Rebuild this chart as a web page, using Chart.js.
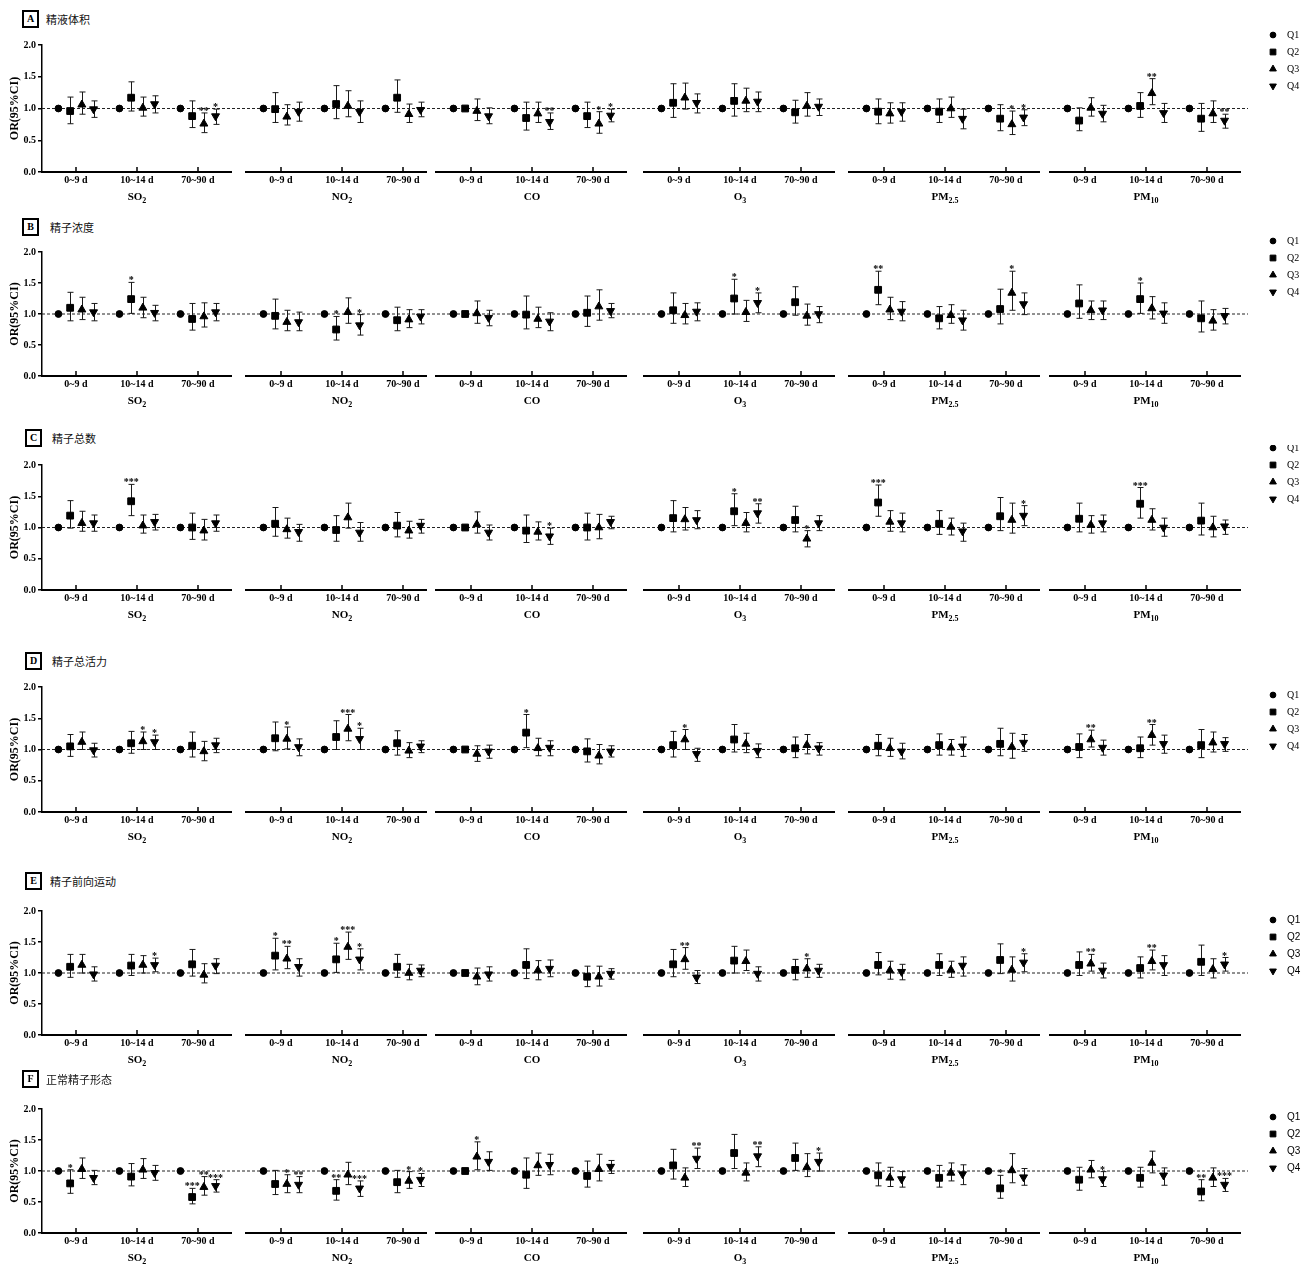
<!DOCTYPE html>
<html>
<head>
<meta charset="utf-8">
<script src="https://cdn.jsdelivr.net/npm/chart.js@4.4.1/dist/chart.umd.min.js"></script>
<style>
  body { margin: 0; width: 1314px; height: 1270px; background: #fff; position: relative; overflow: hidden; }
  .panel { position: absolute; left: 0; width: 1314px; height: 185px; }
  .tag { position: absolute; width: 13px; height: 14px; border: 2px solid #000; font: bold 10px "Liberation Serif", serif; text-align: center; line-height: 14px; }
  .ttl { position: absolute; font: 11px "Noto Sans CJK SC", sans-serif; line-height: 16px; color: #111; }
</style>
</head>
<body>
<script>
const pollutants = ['SO2', 'NO2', 'CO', 'O3', 'PM2.5', 'PM10'];
const windows = ['0~9 d', '10~14 d', '70~90 d'];
const quartiles = ['Q1', 'Q2', 'Q3', 'Q4'];
const panelLetters = ['A', 'B', 'C', 'D', 'E', 'F'];
const panelTitles = ['精液体积', '精子浓度', '精子总数', '精子总活力', '精子前向运动', '正常精子形态'];
const yTicks = [0, 0.5, 1.0, 1.5, 2.0];
const refOR = 1.0; // Q1 is the reference group

// rows: pollutant x window (SO2 0~9, 10~14, 70~90, NO2 ...), columns: Q2, Q3, Q4
// stars: 1 = *, 2 = **, 3 = ***
const orA = [
  [0.96, 1.06, 0.99], [1.17, 1.01, 1.07], [0.88, 0.76, 0.88],
  [0.99, 0.87, 0.95], [1.07, 1.04, 0.95], [1.17, 0.91, 0.98],
  [1.00, 0.96, 0.88], [0.85, 0.92, 0.79], [0.88, 0.76, 0.89],
  [1.09, 1.17, 1.09], [1.12, 1.12, 1.11], [0.94, 1.04, 1.03],
  [0.95, 0.92, 0.95], [0.95, 1.00, 0.84], [0.84, 0.75, 0.86],
  [0.81, 1.01, 0.92], [1.04, 1.24, 0.93], [0.84, 0.92, 0.81]
];
const loA = [
  [0.76, 0.91, 0.86], [0.96, 0.88, 0.93], [0.70, 0.62, 0.75],
  [0.78, 0.74, 0.80], [0.84, 0.87, 0.78], [0.94, 0.78, 0.87],
  [0.98, 0.81, 0.76], [0.66, 0.78, 0.67], [0.70, 0.61, 0.79],
  [0.86, 0.99, 0.93], [0.88, 0.95, 0.95], [0.77, 0.88, 0.89],
  [0.76, 0.77, 0.80], [0.78, 0.86, 0.68], [0.65, 0.59, 0.73],
  [0.65, 0.88, 0.79], [0.86, 1.06, 0.78], [0.64, 0.78, 0.69]
];
const hiA = [
  [1.18, 1.26, 1.12], [1.42, 1.18, 1.20], [1.12, 0.93, 0.99],
  [1.25, 1.06, 1.10], [1.36, 1.28, 1.12], [1.45, 1.07, 1.10],
  [1.02, 1.15, 1.01], [1.10, 1.10, 0.93], [1.10, 0.95, 0.99],
  [1.39, 1.40, 1.23], [1.39, 1.32, 1.26], [1.13, 1.25, 1.15],
  [1.15, 1.09, 1.09], [1.15, 1.18, 0.99], [1.06, 0.96, 0.98],
  [1.01, 1.17, 1.05], [1.25, 1.47, 1.08], [1.08, 1.12, 0.91]
];
const sigA = [
  [0, 0, 0], [0, 0, 0], [0, 2, 1],
  [0, 0, 0], [0, 0, 0], [0, 0, 0],
  [0, 0, 0], [0, 0, 2], [0, 1, 1],
  [0, 0, 0], [0, 0, 0], [0, 0, 0],
  [0, 0, 0], [0, 0, 0], [0, 1, 1],
  [0, 0, 0], [0, 2, 0], [0, 0, 2]
];

const orB = [
  [1.10, 1.07, 1.03], [1.24, 1.10, 1.02], [0.92, 0.96, 1.03],
  [0.97, 0.87, 0.87], [0.75, 1.03, 0.82], [0.90, 0.91, 0.96],
  [1.00, 1.01, 0.94], [0.99, 0.92, 0.88], [1.02, 1.12, 1.05],
  [1.06, 0.98, 1.04], [1.25, 1.03, 1.18], [1.19, 0.97, 1.00],
  [1.39, 1.07, 1.04], [0.93, 0.98, 0.90], [1.08, 1.34, 1.16],
  [1.17, 1.06, 1.06], [1.24, 1.09, 1.01], [0.93, 0.89, 0.97]
];
const loB = [
  [0.89, 0.91, 0.89], [1.01, 0.94, 0.89], [0.74, 0.79, 0.89],
  [0.76, 0.73, 0.73], [0.58, 0.85, 0.66], [0.73, 0.78, 0.84],
  [0.98, 0.85, 0.81], [0.76, 0.78, 0.73], [0.80, 0.90, 0.94],
  [0.85, 0.84, 0.89], [1.00, 0.88, 1.02], [0.98, 0.82, 0.86],
  [1.15, 0.91, 0.89], [0.76, 0.85, 0.74], [0.84, 1.06, 0.99],
  [0.93, 0.91, 0.91], [1.01, 0.92, 0.85], [0.71, 0.74, 0.84]
];
const hiB = [
  [1.35, 1.27, 1.17], [1.51, 1.27, 1.14], [1.17, 1.18, 1.17],
  [1.24, 1.06, 1.03], [0.96, 1.26, 0.99], [1.11, 1.07, 1.07],
  [1.02, 1.21, 1.06], [1.29, 1.11, 1.02], [1.29, 1.39, 1.17],
  [1.34, 1.17, 1.18], [1.56, 1.22, 1.34], [1.44, 1.16, 1.12],
  [1.69, 1.27, 1.20], [1.12, 1.15, 1.06], [1.40, 1.69, 1.34],
  [1.47, 1.21, 1.21], [1.50, 1.28, 1.18], [1.21, 1.07, 1.09]
];
const sigB = [
  [0, 0, 0], [1, 0, 0], [0, 0, 0],
  [0, 0, 0], [1, 0, 1], [0, 0, 0],
  [0, 0, 0], [0, 0, 0], [0, 0, 0],
  [0, 0, 0], [1, 0, 1], [0, 0, 0],
  [2, 0, 0], [0, 0, 0], [0, 1, 0],
  [0, 0, 0], [1, 0, 0], [0, 0, 0]
];

const orC = [
  [1.19, 1.07, 1.07], [1.42, 1.03, 1.09], [1.00, 0.95, 1.07],
  [1.06, 0.97, 0.93], [0.96, 1.16, 0.92], [1.03, 0.95, 1.03],
  [1.00, 1.05, 0.92], [0.95, 0.93, 0.86], [1.00, 1.00, 1.09],
  [1.15, 1.13, 1.12], [1.26, 1.07, 1.23], [1.12, 0.82, 1.07],
  [1.40, 1.09, 1.07], [1.06, 1.01, 0.94], [1.18, 1.12, 1.19],
  [1.14, 1.04, 1.07], [1.38, 1.12, 1.00], [1.11, 1.00, 1.02]
];
const loC = [
  [0.99, 0.94, 0.94], [1.19, 0.91, 0.96], [0.81, 0.80, 0.94],
  [0.86, 0.83, 0.78], [0.78, 0.99, 0.78], [0.85, 0.83, 0.91],
  [0.98, 0.91, 0.80], [0.76, 0.80, 0.73], [0.80, 0.82, 0.98],
  [0.93, 0.96, 0.98], [1.03, 0.93, 1.07], [0.93, 0.69, 0.95],
  [1.18, 0.94, 0.93], [0.89, 0.88, 0.78], [0.95, 0.91, 1.03],
  [0.93, 0.91, 0.93], [1.15, 0.96, 0.86], [0.88, 0.85, 0.89]
];
const hiC = [
  [1.43, 1.26, 1.20], [1.69, 1.20, 1.21], [1.23, 1.13, 1.20],
  [1.32, 1.15, 1.05], [1.19, 1.39, 1.08], [1.24, 1.10, 1.13],
  [1.02, 1.25, 1.04], [1.20, 1.09, 0.99], [1.23, 1.21, 1.18],
  [1.43, 1.32, 1.27], [1.54, 1.24, 1.38], [1.34, 0.95, 1.19],
  [1.68, 1.27, 1.23], [1.27, 1.15, 1.07], [1.48, 1.39, 1.35],
  [1.39, 1.19, 1.20], [1.64, 1.30, 1.15], [1.39, 1.18, 1.12]
];
const sigC = [
  [0, 0, 0], [3, 0, 0], [0, 0, 0],
  [0, 0, 0], [0, 0, 0], [0, 0, 0],
  [0, 0, 0], [0, 0, 1], [0, 0, 0],
  [0, 0, 0], [1, 0, 2], [0, 1, 0],
  [3, 0, 0], [0, 0, 0], [0, 0, 1],
  [0, 0, 0], [3, 0, 0], [0, 0, 0]
];

const orD = [
  [1.05, 1.12, 0.99], [1.10, 1.13, 1.12], [1.06, 0.97, 1.07],
  [1.18, 1.17, 1.04], [1.20, 1.33, 1.17], [1.10, 0.98, 1.05],
  [1.00, 0.93, 0.97], [1.27, 1.02, 1.03], [0.97, 0.90, 0.97],
  [1.07, 1.16, 0.93], [1.16, 1.09, 0.98], [1.02, 1.07, 1.02],
  [1.06, 1.02, 0.97], [1.07, 1.03, 1.05], [1.09, 1.04, 1.11],
  [1.04, 1.16, 1.03], [1.02, 1.23, 1.09], [1.07, 1.11, 1.09]
];
const loD = [
  [0.89, 1.00, 0.88], [0.94, 1.00, 1.00], [0.88, 0.82, 0.95],
  [0.98, 1.01, 0.90], [1.00, 1.14, 1.00], [0.91, 0.87, 0.95],
  [0.98, 0.81, 0.86], [1.03, 0.90, 0.90], [0.80, 0.77, 0.88],
  [0.88, 1.00, 0.81], [0.96, 0.95, 0.87], [0.87, 0.93, 0.91],
  [0.90, 0.89, 0.85], [0.91, 0.91, 0.89], [0.90, 0.86, 0.97],
  [0.87, 1.04, 0.91], [0.87, 1.07, 0.94], [0.87, 0.96, 0.97]
];
const hiD = [
  [1.24, 1.28, 1.10], [1.29, 1.28, 1.23], [1.28, 1.13, 1.18],
  [1.44, 1.36, 1.17], [1.46, 1.56, 1.34], [1.30, 1.11, 1.14],
  [1.02, 1.06, 1.07], [1.56, 1.18, 1.14], [1.17, 1.08, 1.06],
  [1.29, 1.32, 1.02], [1.40, 1.26, 1.09], [1.20, 1.24, 1.11],
  [1.24, 1.18, 1.10], [1.25, 1.16, 1.20], [1.34, 1.26, 1.24],
  [1.25, 1.31, 1.15], [1.20, 1.40, 1.23], [1.32, 1.28, 1.19]
];
const sigD = [
  [0, 0, 0], [0, 1, 1], [0, 0, 0],
  [0, 1, 0], [0, 3, 1], [0, 0, 0],
  [0, 0, 0], [1, 0, 0], [0, 0, 0],
  [0, 1, 0], [0, 0, 0], [0, 0, 0],
  [0, 0, 0], [0, 0, 0], [0, 0, 0],
  [0, 2, 0], [0, 2, 0], [0, 0, 0]
];

const orE = [
  [1.10, 1.13, 0.98], [1.12, 1.13, 1.13], [1.14, 0.97, 1.12],
  [1.28, 1.23, 1.10], [1.22, 1.42, 1.22], [1.10, 1.00, 1.04],
  [1.00, 0.94, 0.98], [1.13, 1.04, 1.07], [0.94, 0.94, 0.99],
  [1.14, 1.22, 0.93], [1.20, 1.19, 0.99], [1.05, 1.07, 1.04],
  [1.13, 1.04, 1.02], [1.13, 1.05, 1.12], [1.21, 1.05, 1.17],
  [1.13, 1.15, 1.04], [1.08, 1.19, 1.13], [1.18, 1.06, 1.14]
];
const loE = [
  [0.93, 1.00, 0.87], [0.96, 1.00, 1.02], [0.95, 0.84, 0.99],
  [1.05, 1.07, 0.95], [1.01, 1.22, 1.05], [0.93, 0.89, 0.94],
  [0.98, 0.81, 0.87], [0.91, 0.89, 0.94], [0.78, 0.79, 0.90],
  [0.94, 1.06, 0.83], [1.00, 1.04, 0.87], [0.89, 0.93, 0.93],
  [0.97, 0.90, 0.89], [0.96, 0.93, 0.95], [0.99, 0.87, 1.02],
  [0.96, 1.03, 0.92], [0.92, 1.05, 0.96], [0.96, 0.92, 1.03]
];
const hiE = [
  [1.30, 1.30, 1.10], [1.30, 1.28, 1.24], [1.38, 1.15, 1.23],
  [1.56, 1.43, 1.23], [1.48, 1.66, 1.39], [1.30, 1.14, 1.13],
  [1.02, 1.08, 1.10], [1.39, 1.20, 1.21], [1.11, 1.11, 1.07],
  [1.38, 1.41, 1.04], [1.43, 1.37, 1.10], [1.22, 1.23, 1.14],
  [1.33, 1.19, 1.14], [1.31, 1.19, 1.26], [1.47, 1.26, 1.31],
  [1.34, 1.30, 1.16], [1.26, 1.37, 1.28], [1.45, 1.23, 1.25]
];
const sigE = [
  [0, 0, 0], [0, 0, 1], [0, 0, 0],
  [1, 2, 0], [1, 3, 1], [0, 0, 0],
  [0, 0, 0], [0, 0, 0], [0, 0, 0],
  [0, 2, 0], [0, 0, 0], [0, 1, 0],
  [0, 0, 0], [0, 0, 0], [0, 0, 1],
  [0, 2, 0], [0, 2, 0], [0, 0, 1]
];

const orF = [
  [0.80, 1.03, 0.89], [0.91, 1.02, 0.97], [0.58, 0.74, 0.76],
  [0.79, 0.79, 0.78], [0.68, 0.94, 0.72], [0.82, 0.84, 0.86],
  [1.00, 1.23, 1.15], [0.94, 1.09, 1.10], [0.92, 1.03, 1.07],
  [1.09, 0.89, 1.20], [1.29, 0.97, 1.24], [1.21, 1.06, 1.15],
  [0.93, 0.89, 0.87], [0.89, 0.97, 0.95], [0.72, 1.01, 0.90],
  [0.86, 1.02, 0.87], [0.89, 1.13, 0.93], [0.67, 0.89, 0.78]
];
const loF = [
  [0.64, 0.88, 0.78], [0.76, 0.88, 0.85], [0.47, 0.61, 0.66],
  [0.62, 0.65, 0.65], [0.53, 0.78, 0.59], [0.65, 0.72, 0.75],
  [0.98, 1.02, 1.01], [0.72, 0.93, 0.94], [0.74, 0.84, 0.96],
  [0.87, 0.75, 1.04], [1.04, 0.84, 1.07], [1.01, 0.91, 1.00],
  [0.76, 0.75, 0.74], [0.74, 0.84, 0.78], [0.56, 0.81, 0.77],
  [0.69, 0.89, 0.75], [0.74, 0.97, 0.77], [0.52, 0.75, 0.67]
];
const hiF = [
  [1.02, 1.21, 1.01], [1.12, 1.20, 1.09], [0.72, 0.91, 0.86],
  [1.01, 0.94, 0.91], [0.86, 1.14, 0.84], [1.01, 0.99, 0.96],
  [1.02, 1.47, 1.31], [1.21, 1.29, 1.27], [1.16, 1.27, 1.17],
  [1.35, 1.05, 1.37], [1.59, 1.13, 1.39], [1.45, 1.28, 1.29],
  [1.13, 1.06, 0.99], [1.09, 1.13, 1.10], [0.93, 1.28, 1.04],
  [1.06, 1.17, 0.99], [1.06, 1.32, 1.05], [0.86, 1.05, 0.88]
];
const sigF = [
  [1, 0, 0], [0, 0, 0], [3, 2, 3],
  [0, 1, 2], [2, 0, 3], [0, 1, 1],
  [0, 1, 0], [0, 0, 0], [0, 0, 0],
  [0, 0, 2], [0, 0, 2], [0, 0, 1],
  [0, 0, 0], [0, 0, 0], [1, 0, 0],
  [0, 0, 1], [0, 0, 0], [2, 0, 3]
];

const panelData = [
  [orA, loA, hiA, sigA], [orB, loB, hiB, sigB], [orC, loC, hiC, sigC],
  [orD, loD, hiD, sigD], [orE, loE, hiE, sigE], [orF, loF, hiF, sigF]
];

// page layout (pixels)
const plotTop = [45, 252, 465, 687, 911, 1109];
const plotH = [127, 124, 125, 125, 124, 124];
const legendDy = [-10, -11, -17, 8, 9, 8];
const tagPos = [[22, 10], [22, 218], [25, 429], [25, 652], [25, 872], [22, 1070]];
const titleX = [46, 50, 52, 52, 50, 46];

const serif = '"Liberation Serif", "Times New Roman", serif';
// x scale is in pixels from the y axis; each pollutant block starts at groupStart
const groupStart = [0, 205, 395, 603, 808, 1009];
const windowStep = 61, quartStep = 11.7, firstTick = 34;
const pointStyles = ['circle', 'rect', 'triangle', 'triangle'];
const pointRadii = [3.4, 4.8, 4.6, 4.6];
const pointRot = [0, 0, 0, 180];

function xPos(g, w, q) {
    return groupStart[g] + firstTick + w * windowStep + (q - 1.5) * quartStep;
}

function drawChem(ctx, label, cx, cy) {
    const m = label.match(/^([A-Z]+)(.*)$/);
    const base = m[1], sub = m[2];
    ctx.font = `bold 11px ${serif}`;
    const wb = ctx.measureText(base).width;
    ctx.font = `bold 8px ${serif}`;
    const ws = ctx.measureText(sub).width;
    const x0 = cx - (wb + ws) / 2;
    ctx.textAlign = 'left';
    ctx.textBaseline = 'middle';
    ctx.font = `bold 11px ${serif}`;
    ctx.fillText(base, x0, cy);
    ctx.font = `bold 8px ${serif}`;
    ctx.fillText(sub, x0 + wb, cy + 4);
}

const decoPlugin = {
    id: 'deco',
    beforeDatasetsDraw(chart) {
        const { ctx, chartArea, scales: { x, y } } = chart;
        ctx.save();
        // reference line at OR = 1
        ctx.strokeStyle = '#222';
        ctx.lineWidth = 1;
        ctx.setLineDash([3, 2]);
        const yr = y.getPixelForValue(refOR);
        ctx.beginPath();
        ctx.moveTo(chartArea.left, yr);
        ctx.lineTo(x.getPixelForValue(1206), yr);
        ctx.stroke();
        ctx.setLineDash([]);
        // 95% CI bars
        ctx.strokeStyle = '#1a1a1a';
        chart.data.datasets.forEach(ds => {
            if (!ds.lo) return;
            ds.data.forEach((p, i) => {
                const px = Math.round(x.getPixelForValue(p.x)) + 0.5;
                const yl = y.getPixelForValue(ds.lo[i]);
                const yh = y.getPixelForValue(ds.hi[i]);
                ctx.beginPath();
                ctx.moveTo(px, yl); ctx.lineTo(px, yh);
                ctx.moveTo(px - 3, yl); ctx.lineTo(px + 3, yl);
                ctx.moveTo(px - 3, yh); ctx.lineTo(px + 3, yh);
                ctx.stroke();
            });
        });
        ctx.restore();
    },
    afterDatasetsDraw(chart) {
        const { ctx, scales: { x, y } } = chart;
        ctx.save();
        ctx.fillStyle = '#000';
        ctx.font = `bold 10px ${serif}`;
        ctx.textAlign = 'center';
        ctx.textBaseline = 'alphabetic';
        chart.data.datasets.forEach(ds => {
            if (!ds.sig) return;
            ds.data.forEach((p, i) => {
                if (!ds.sig[i]) return;
                ctx.fillText('*'.repeat(ds.sig[i]), x.getPixelForValue(p.x), y.getPixelForValue(ds.hi[i]) + 1);
            });
        });
        ctx.restore();
    },
    afterDraw(chart) {
        const { ctx, chartArea, scales: { x } } = chart;
        const opts = chart.options.plugins.deco;
        const yb = chartArea.bottom;
        ctx.save();
        ctx.strokeStyle = '#000';
        ctx.fillStyle = '#000';
        // broken x axis: one segment per pollutant
        pollutants.forEach((pol, g) => {
            const x0 = g === 0 ? chartArea.left - 1 : x.getPixelForValue(groupStart[g] - 2);
            const end = g < pollutants.length - 1 ? Math.min(groupStart[g] + 190, groupStart[g + 1] - 10) : groupStart[g] + 190;
            const x1 = x.getPixelForValue(end);
            ctx.lineWidth = 2;
            ctx.beginPath();
            ctx.moveTo(x0, yb); ctx.lineTo(x1, yb);
            ctx.stroke();
            ctx.lineWidth = 1.5;
            windows.forEach((wl, w) => {
                const tx = Math.round(x.getPixelForValue(xPos(g, w, 1.5)));
                ctx.beginPath();
                ctx.moveTo(tx, yb); ctx.lineTo(tx, yb - 5);
                ctx.stroke();
                ctx.font = `bold 10px ${serif}`;
                ctx.textAlign = 'center';
                ctx.textBaseline = 'middle';
                ctx.fillText(wl, tx, yb + 8);
            });
            drawChem(ctx, pol, x.getPixelForValue(xPos(g, 1, 1.5)), yb + 25);
        });
        // legend
        quartiles.forEach((q, i) => {
            const ly = chartArea.top + opts.legendDy + i * 17;
            ctx.fillStyle = '#000';
            ctx.strokeStyle = '#000';
            ctx.lineWidth = 1;
            Chart.helpers.drawPoint(ctx, {
                pointStyle: pointStyles[i],
                radius: pointRadii[i] * 0.85,
                rotation: pointRot[i],
                borderWidth: 1
            }, 1273, ly);
            ctx.font = `10px ${opts.legendFont}`;
            ctx.textAlign = 'left';
            ctx.textBaseline = 'middle';
            ctx.fillText(q, 1287, ly);
        });
        ctx.restore();
    }
};

panelLetters.forEach((letter, p) => {
    const [or, lo, hi, sig] = panelData[p];

    const tag = document.createElement('div');
    tag.className = 'tag';
    tag.style.left = tagPos[p][0] + 'px';
    tag.style.top = tagPos[p][1] + 'px';
    tag.textContent = letter;
    document.body.appendChild(tag);

    const ttl = document.createElement('div');
    ttl.className = 'ttl';
    ttl.style.left = titleX[p] + 'px';
    ttl.style.top = (tagPos[p][1] + 1) + 'px';
    ttl.textContent = panelTitles[p];
    document.body.appendChild(ttl);

    const wrap = document.createElement('div');
    wrap.className = 'panel';
    wrap.style.top = (plotTop[p] - 20) + 'px';
    const canvas = document.createElement('canvas');
    canvas.width = 1314;
    canvas.height = 185;
    wrap.appendChild(canvas);
    document.body.appendChild(wrap);

    const datasets = quartiles.map((q, qi) => ({
        label: q,
        data: or.map((row, i) => ({
            x: xPos(Math.floor(i / 3), i % 3, qi),
            y: qi === 0 ? refOR : row[qi - 1]
        })),
        lo: qi === 0 ? null : lo.map(r => r[qi - 1]),
        hi: qi === 0 ? null : hi.map(r => r[qi - 1]),
        sig: qi === 0 ? null : sig.map(r => r[qi - 1]),
        pointStyle: pointStyles[qi],
        pointRadius: pointRadii[qi],
        pointRotation: pointRot[qi],
        backgroundColor: '#000',
        borderColor: '#000',
        borderWidth: 1,
        showLine: false
    }));

    new Chart(canvas.getContext('2d'), {
        type: 'scatter',
        data: { datasets },
        options: {
            responsive: false,
            animation: false,
            events: [],
            devicePixelRatio: 1,
            layout: { padding: { top: 20, bottom: 185 - 20 - plotH[p], left: 0, right: 72 } },
            plugins: {
                legend: { display: false },
                tooltip: { enabled: false },
                deco: { legendDy: legendDy[p], legendFont: p < 4 ? serif : '"Liberation Sans", Arial, sans-serif' }
            },
            scales: {
                x: { type: 'linear', min: 0, max: 1200, display: false },
                y: {
                    min: 0,
                    max: 2,
                    afterBuildTicks: s => { s.ticks = yTicks.map(v => ({ value: v })); },
                    afterFit: s => { s.width = 42; },
                    ticks: {
                        color: '#000',
                        padding: 2,
                        font: { family: serif, size: 10, weight: 'bold' },
                        callback: v => v.toFixed(1)
                    },
                    grid: { drawOnChartArea: false, drawTicks: true, tickLength: 4, color: '#000', lineWidth: 1.5 },
                    border: { display: true, color: '#000', width: 1.5 },
                    title: {
                        display: true,
                        text: 'OR(95%CI)',
                        color: '#000',
                        padding: { top: 8, bottom: 0 },
                        font: { family: serif, size: 12, weight: 'bold' }
                    }
                }
            }
        },
        plugins: [decoPlugin]
    });
});
</script>
</body>
</html>
